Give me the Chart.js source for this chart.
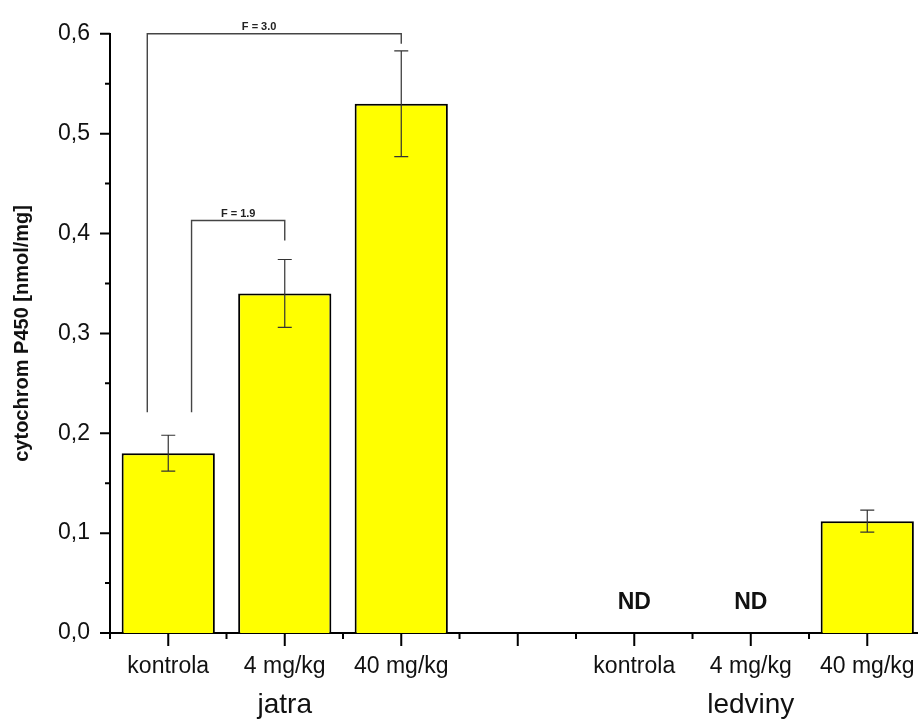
<!DOCTYPE html>
<html>
<head>
<meta charset="utf-8">
<script src="https://cdn.jsdelivr.net/npm/chart.js@4.4.1/dist/chart.umd.min.js"></script>
<style>
  html, body { margin: 0; padding: 0; background: #fff; overflow: hidden; }
  canvas { display: block; }
</style>
</head>
<body>
<canvas id="chart" width="935" height="720"></canvas>
<script>
// categories along the x axis (4th slot is the empty gap between groups)
const categories = ['kontrola', '4 mg/kg', '40 mg/kg', '', 'kontrola', '4 mg/kg', '40 mg/kg']
const groupLabels = ['', 'jatra', '', '', '', 'ledviny', '']
const values = [0.18, 0.34, 0.53, null, null, null, 0.112]
const errors = [0.018, 0.034, 0.053, null, null, null, 0.011]
const notDetected = [4, 5]
const ndLevel = 0.03
const yTicks = [0, 0.1, 0.2, 0.3, 0.4, 0.5, 0.6]
// comparison brackets, x in category units, y in data units
const brackets = [
    { from: -0.18, to: 2, top: 0.6, leftEnd: 0.221, rightEnd: 0.59, labelAt: 0.78, text: 'F = 3.0' },
    { from: 0.2, to: 1, top: 0.413, leftEnd: 0.221, rightEnd: 0.393, labelAt: 0.6, text: 'F = 1.9' }
]

const FONT = "'Liberation Sans', Arial, sans-serif"

const annotate = {
    id: 'annotate',
    afterDatasetsDraw(chart) {
        const { ctx } = chart
        const x = chart.scales.x, y = chart.scales.y
        const meta = chart.getDatasetMeta(0)

        // error bars
        ctx.save()
        ctx.strokeStyle = '#333'
        ctx.lineWidth = 1.2
        errors.forEach((e, i) => {
            if (e == null || values[i] == null) return
            const cx = meta.data[i].x
            const yt = y.getPixelForValue(values[i] + e)
            const yb = y.getPixelForValue(values[i] - e)
            ctx.beginPath()
            ctx.moveTo(cx, yt); ctx.lineTo(cx, yb)
            ctx.moveTo(cx - 7, yt); ctx.lineTo(cx + 7, yt)
            ctx.moveTo(cx - 7, yb); ctx.lineTo(cx + 7, yb)
            ctx.stroke()
        })

        // brackets
        ctx.strokeStyle = '#444'
        ctx.lineWidth = 1.4
        ctx.fillStyle = '#222'
        ctx.font = "bold 11px " + FONT
        ctx.textAlign = 'center'
        ctx.textBaseline = 'middle'
        brackets.forEach(b => {
            const x1 = x.getPixelForValue(b.from), x2 = x.getPixelForValue(b.to)
            const yTop = y.getPixelForValue(b.top)
            ctx.beginPath()
            ctx.moveTo(x1, y.getPixelForValue(b.leftEnd))
            ctx.lineTo(x1, yTop)
            ctx.lineTo(x2, yTop)
            ctx.lineTo(x2, y.getPixelForValue(b.rightEnd))
            ctx.stroke()
            ctx.fillText(b.text, x.getPixelForValue(b.labelAt), yTop - 7)
        })

        // ND labels
        ctx.font = "bold 23px " + FONT
        ctx.fillStyle = '#111'
        notDetected.forEach(i => {
            ctx.fillText('ND', x.getPixelForValue(i), y.getPixelForValue(ndLevel))
        })
        ctx.restore()
    },
    afterDraw(chart) {
        // tick marks: long at majors, short at minors
        const { ctx } = chart
        const x = chart.scales.x, y = chart.scales.y
        const axisX = chart.chartArea.left, axisY = chart.chartArea.bottom
        ctx.save()
        ctx.strokeStyle = '#000'
        ctx.lineWidth = 2
        ctx.beginPath()
        yTicks.forEach((v, i) => {
            const py = y.getPixelForValue(v)
            ctx.moveTo(axisX - 10, py); ctx.lineTo(axisX, py)
            if (i < yTicks.length - 1) {
                const pm = y.getPixelForValue((v + yTicks[i + 1]) / 2)
                ctx.moveTo(axisX - 5, pm); ctx.lineTo(axisX, pm)
            }
        })
        categories.forEach((c, i) => {
            const px = x.getPixelForValue(i)
            ctx.moveTo(px, axisY); ctx.lineTo(px, axisY + 13)
            const pb = x.getPixelForValue(i - 0.5)
            ctx.moveTo(pb, axisY); ctx.lineTo(pb, axisY + 6)
        })
        const pe = x.getPixelForValue(categories.length - 0.5)
        ctx.moveTo(pe, axisY); ctx.lineTo(pe, axisY + 6)
        ctx.stroke()
        ctx.restore()
    }
}

new Chart(document.getElementById('chart'), {
    type: 'bar',
    data: {
        labels: categories,
        datasets: [{
            data: values,
            xAxisID: 'x',
            yAxisID: 'y',
            backgroundColor: '#ffff00',
            borderColor: '#000',
            borderWidth: 2,
            barPercentage: 0.8,
            categoryPercentage: 1.0
        }]
    },
    options: {
        responsive: false,
        animation: false,
        devicePixelRatio: 1,
        layout: { padding: { top: 33, right: 6, bottom: 0, left: 0 } },
        plugins: {
            legend: { display: false },
            tooltip: { enabled: false }
        },
        scales: {
            x: {
                type: 'category',
                position: 'bottom',
                weight: 0,
                offset: true,
                afterFit: s => { s.height = 47 },
                grid: { display: false, drawTicks: false },
                border: { color: '#000', width: 2 },
                ticks: {
                    color: '#111',
                    font: { family: FONT, size: 23, lineHeight: 1.2 },
                    padding: 20,
                    maxRotation: 0,
                    autoSkip: false
                }
            },
            x2: {
                type: 'category',
                labels: groupLabels,
                position: 'bottom',
                weight: 1,
                offset: true,
                afterFit: s => { s.height = 40 },
                grid: { display: false, drawTicks: false },
                border: { display: false },
                ticks: {
                    color: '#111',
                    font: { family: FONT, size: 28, lineHeight: 1.0 },
                    padding: 11,
                    maxRotation: 0,
                    autoSkip: false
                }
            },
            y: {
                min: 0,
                max: 0.6,
                afterFit: s => { s.width = 110 },
                afterBuildTicks: s => { s.ticks = yTicks.map(v => ({ value: v })) },
                grid: { display: false, drawTicks: false },
                border: { color: '#000', width: 2 },
                ticks: {
                    color: '#111',
                    padding: 20,
                    font: { family: FONT, size: 23 },
                    callback: v => v.toFixed(1).replace('.', ',')
                },
                title: {
                    display: true,
                    text: 'cytochrom P450 [nmol/mg]',
                    color: '#111',
                    font: { family: FONT, size: 20, weight: 'bold' },
                    padding: { top: 10, bottom: 0 }
                }
            }
        }
    },
    plugins: [annotate]
})
</script>
</body>
</html>
